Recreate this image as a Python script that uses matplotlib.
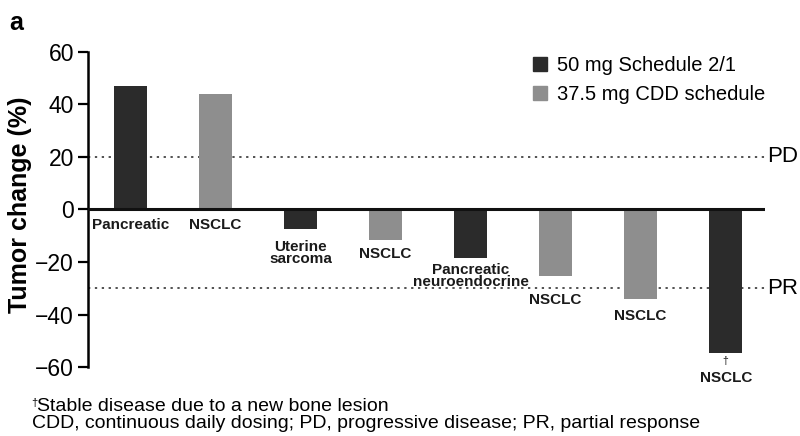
import matplotlib
matplotlib.use("Agg")
from matplotlib import pyplot as plt
from matplotlib.patches import Patch

plt.rcParams['font.family'] = ['Liberation Sans', 'DejaVu Sans']

# tumour change per patient, best response order
tumors = ['Pancreatic', 'NSCLC', 'Uterine\nsarcoma', 'NSCLC',
          'Pancreatic\nneuroendocrine', 'NSCLC', 'NSCLC', 'NSCLC']
change = [47, 44, -7.5, -11.5, -18.5, -25.5, -34, -54.5]
schedule = ['50', '37.5', '50', '37.5', '50', '37.5', '37.5', '50']
series = ['50 mg Schedule 2/1', '37.5 mg CDD schedule']
pd_cut = 20
pr_cut = -30

dark = '#2b2b2b'
light = '#8e8e8e'
colors = {'50': dark, '37.5': light}

fig = plt.figure(figsize=(8, 4.36), dpi=100)
ax = fig.add_axes([0.11, 0.158, 0.846, 0.723])

x = list(range(len(change)))
ax.bar(x, change, width=0.39, color=[colors[s] for s in schedule], zorder=3)

ax.axhline(0, color='#111111', lw=2.2, zorder=4)
ax.axhline(pd_cut, color='#222222', lw=1.1, ls=(0, (1.5, 3)), zorder=1)
ax.axhline(pr_cut, color='#222222', lw=1.1, ls=(0, (1.5, 3)), zorder=1)
ax.text(1.003, pd_cut, 'PD', transform=ax.get_yaxis_transform(),
        va='center', ha='left', fontsize=16)
ax.text(1.003, pr_cut, 'PR', transform=ax.get_yaxis_transform(),
        va='center', ha='left', fontsize=16)

# tumour type under each bar
label_y = [-6, -6, -16.5, -17, -25.2, -34.3, -40.5, -64]
for xi, name, ly in zip(x, tumors, label_y):
    ax.text(xi, ly, name, ha='center', va='center', fontsize=11,
            fontweight='bold', linespacing=0.8, color='#1a1a1a', clip_on=False)
ax.text(x[-1], -57.5, '\u2020', ha='center', va='center', fontsize=7.5, color='#1a1a1a')

ax.set_xlim(-0.5, 7.46)
ax.set_ylim(-60, 60)
ax.set_yticks([-60, -40, -20, 0, 20, 40, 60])
ax.set_yticklabels(['\u221260', '\u221240', '\u221220', '0', '20', '40', '60'])
ax.tick_params(axis='y', labelsize=16.5, width=1.6, length=7, pad=3)
ax.tick_params(axis='x', bottom=False, labelbottom=False)
for s in ['top', 'right', 'bottom']:
    ax.spines[s].set_visible(False)
ax.spines['left'].set_linewidth(1.8)
ax.set_ylabel('Tumor change (%)', fontsize=18, fontweight='bold')
ax.yaxis.set_label_coords(-0.083, 0.515)

handles = [Patch(color=dark), Patch(color=light)]
ax.legend(handles, series, loc='upper left', bbox_to_anchor=(0.63, 1.045),
          frameon=False, fontsize=14.5, handlelength=0.7, handleheight=0.7,
          handletextpad=0.5, labelspacing=0.5)

fig.text(0.012, 0.975, 'a', fontsize=18, fontweight='bold', va='top')
fig.text(0.039, 0.075, '\u2020', fontsize=8, va='center')
fig.text(0.046, 0.068, 'Stable disease due to a new bone lesion', fontsize=14, va='center')
fig.text(0.04, 0.028, 'CDD, continuous daily dosing; PD, progressive disease; PR, partial response',
         fontsize=14, va='center')

fig.savefig('out.png', dpi=100)
